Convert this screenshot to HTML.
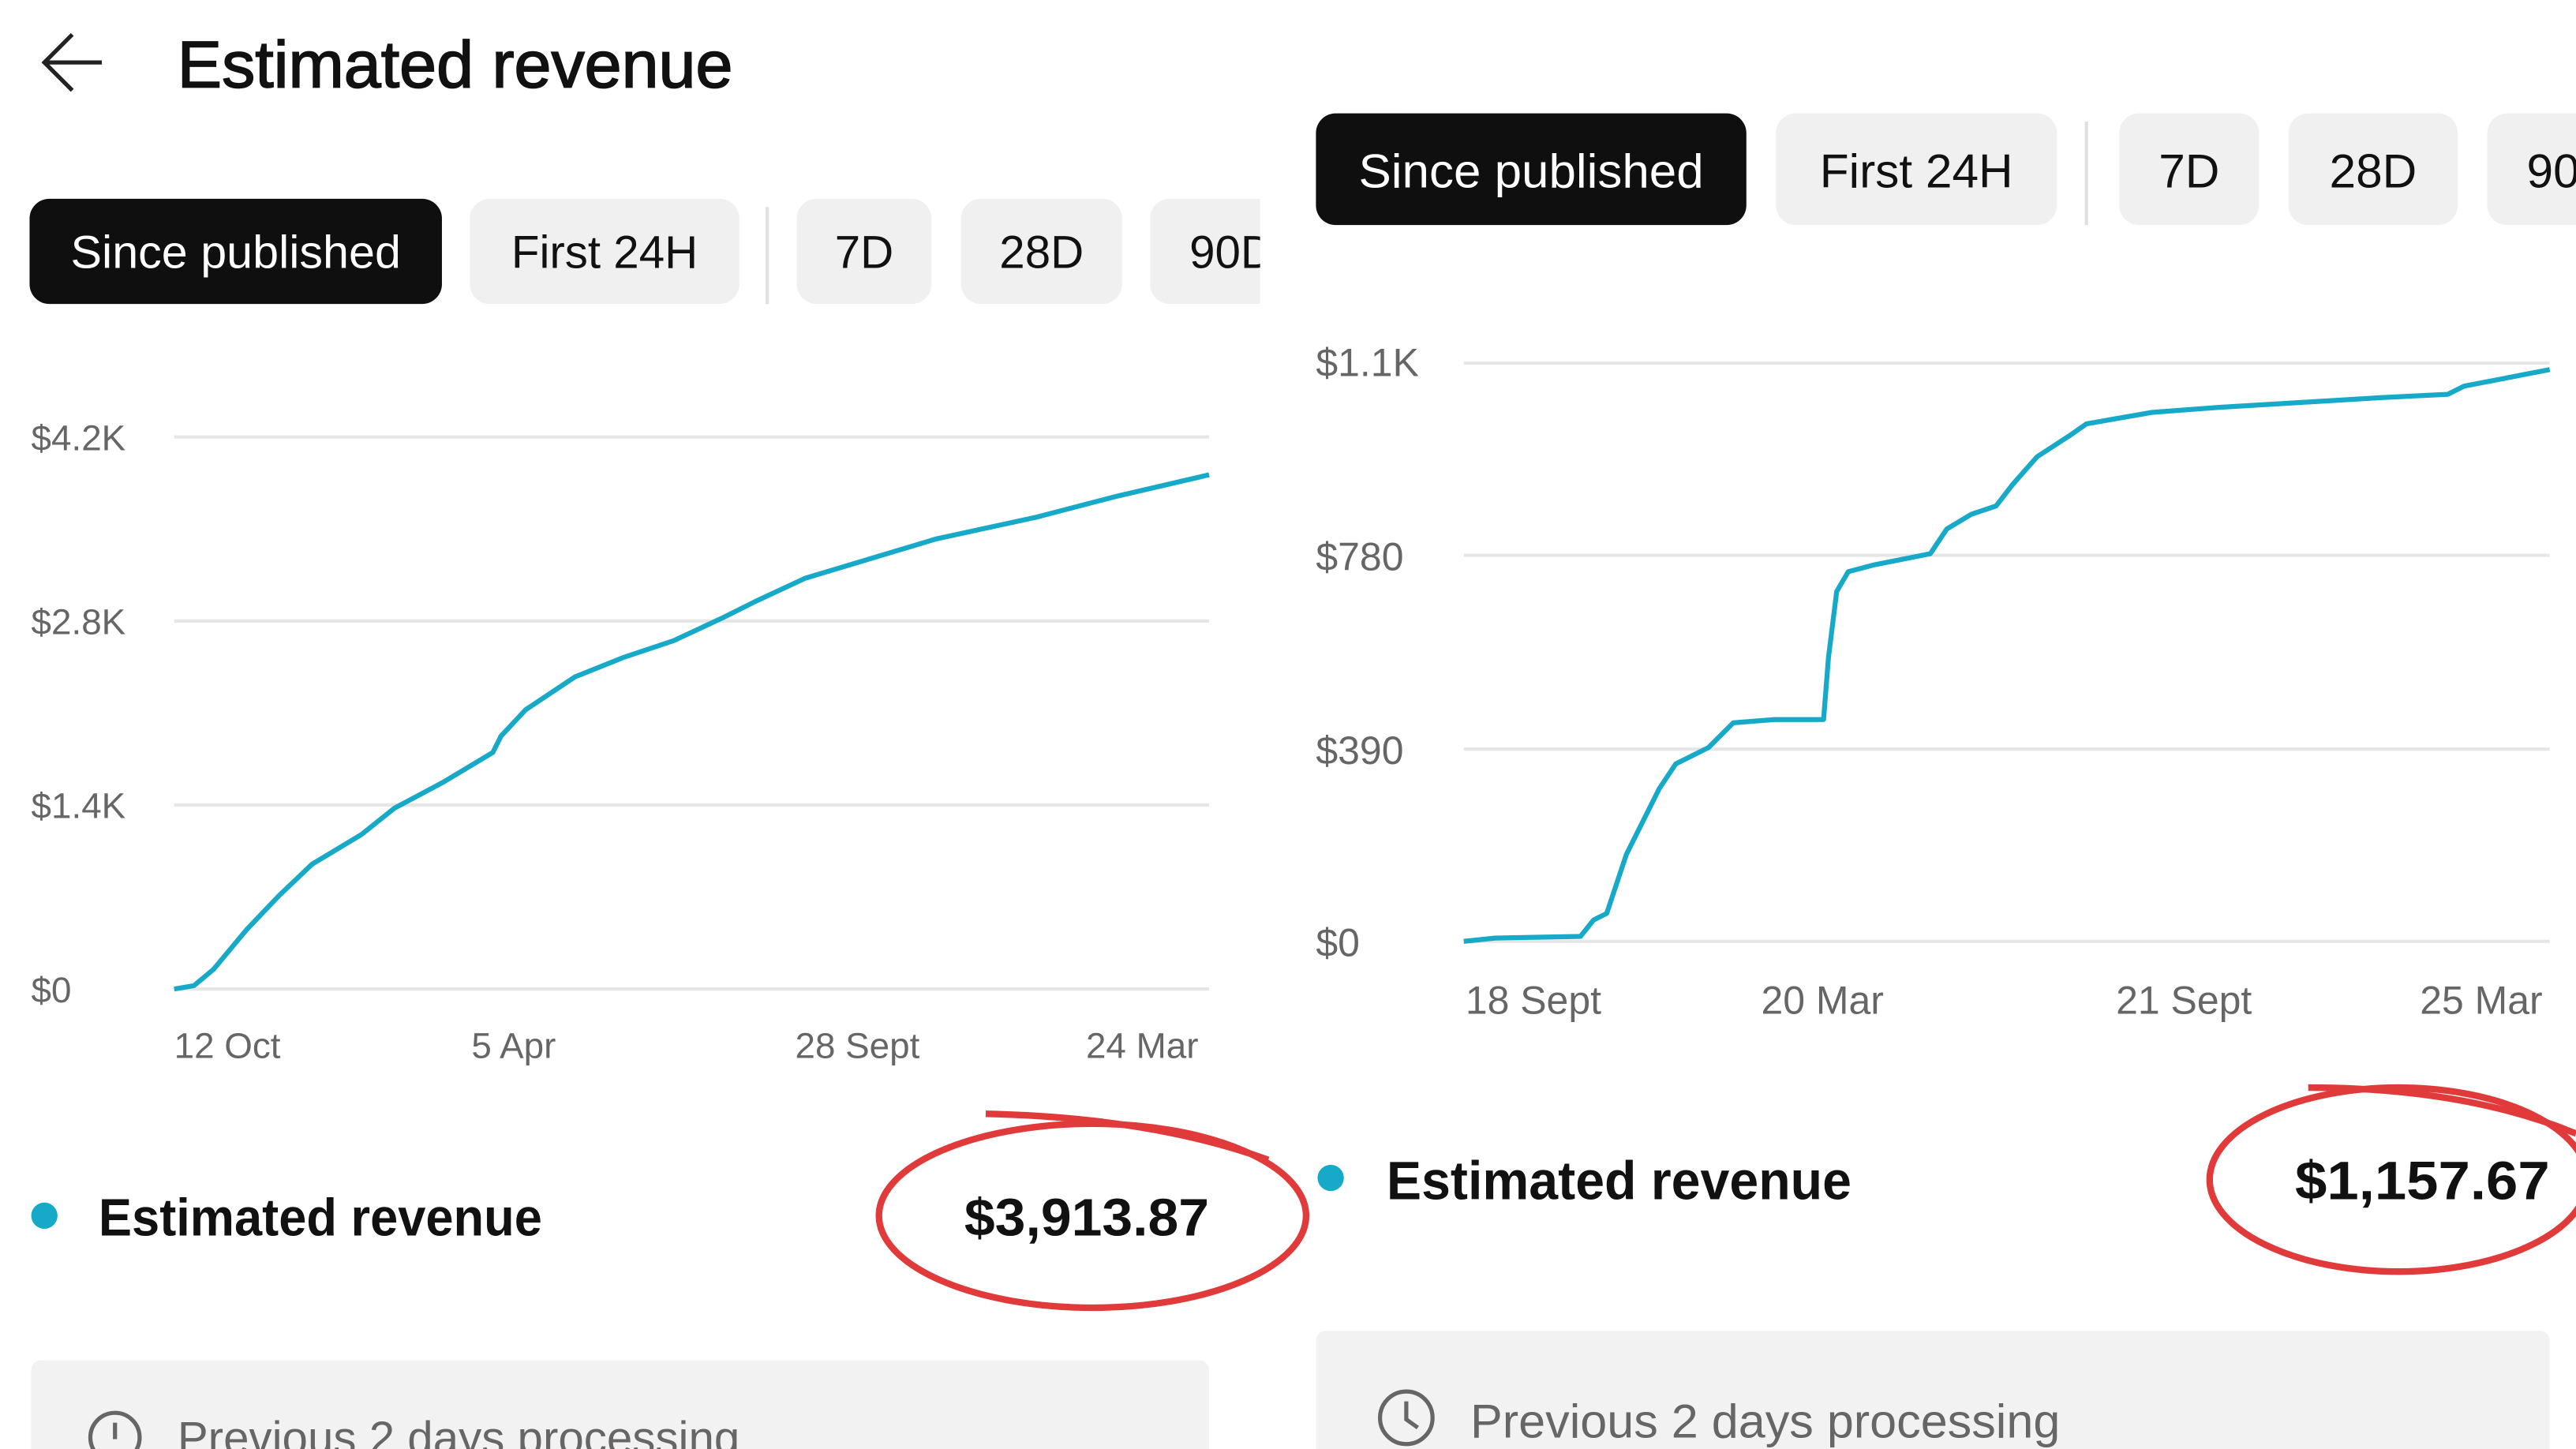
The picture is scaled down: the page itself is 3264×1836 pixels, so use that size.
<!DOCTYPE html>
<html><head><meta charset="utf-8"><style>
html,body{margin:0;padding:0;background:#fff;overflow:hidden}
svg{display:block}
text{font-family:"Liberation Sans",sans-serif}
</style></head><body>
<svg width="3264" height="1836" viewBox="0 0 1568 882" xmlns="http://www.w3.org/2000/svg">
<rect width="1568" height="882" fill="#fff"/>
<!-- Left panel -->
<g>
<path d="M62 38 H27 M44 21 L27 38 L44 55" stroke="#222" stroke-width="2.5" fill="none"/>
<text x="108" y="53" font-size="40" fill="#111" stroke="#111" stroke-width="0.8" textLength="338" lengthAdjust="spacingAndGlyphs">Estimated revenue</text>
<rect x="18" y="121" width="251" height="64" rx="12" fill="#0f0f0f"/>
<text x="143.5" y="163" font-size="28" fill="#fff" text-anchor="middle" textLength="201" lengthAdjust="spacingAndGlyphs">Since published</text>
<rect x="286" y="121" width="164" height="64" rx="12" fill="#f0f0f0"/>
<text x="368" y="163" font-size="28" fill="#111" text-anchor="middle">First 24H</text>
<line x1="467" y1="126" x2="467" y2="185" stroke="#e0e0e0" stroke-width="2"/>
<rect x="485" y="121" width="82" height="64" rx="12" fill="#f0f0f0"/>
<text x="526" y="163" font-size="28" fill="#111" text-anchor="middle">7D</text>
<rect x="585" y="121" width="98" height="64" rx="12" fill="#f0f0f0"/>
<text x="634" y="163" font-size="28" fill="#111" text-anchor="middle">28D</text>
<svg x="700" y="121" width="67" height="64"><rect x="0" y="0" width="100" height="64" rx="12" fill="#f0f0f0"/><text x="24" y="42" font-size="28" fill="#111">90D</text></svg>
<g stroke="#e6e6e6" stroke-width="2">
<line x1="106" y1="266" x2="736" y2="266"/><line x1="106" y1="378" x2="736" y2="378"/>
<line x1="106" y1="490" x2="736" y2="490"/><line x1="106" y1="602" x2="736" y2="602"/>
</g>
<g font-size="22" fill="#666">
<text x="19" y="274">$4.2K</text><text x="19" y="386">$2.8K</text><text x="19" y="498">$1.4K</text><text x="19" y="610">$0</text>
<text x="106" y="644">12 Oct</text><text x="287" y="644">5 Apr</text><text x="484" y="644">28 Sept</text><text x="661" y="644">24 Mar</text>
</g>
<polyline fill="none" stroke="#17a9c8" stroke-width="3" stroke-linejoin="round" points="106,602 118,600 130,590 150,566 170,545 190,526 220,508 240,492 270,476 300,458 305,448 320,432 350,412 380,400 410,390 440,376 460,366 490,352 530,340 570,328 630,315 680,302 736,289"/>
<circle cx="27" cy="740" r="8" fill="#17a9c8"/>
<text x="60" y="752" font-size="32" font-weight="bold" fill="#111" textLength="270" lengthAdjust="spacingAndGlyphs">Estimated revenue</text>
<text x="587" y="752" font-size="32" font-weight="bold" fill="#111" textLength="149" lengthAdjust="spacingAndGlyphs">$3,913.87</text>
<ellipse cx="665" cy="740" rx="130" ry="56" fill="none" stroke="#e03a3a" stroke-width="4"/>
<path d="M600 678 Q700 680 772 706" fill="none" stroke="#e03a3a" stroke-width="4"/>
<rect x="19" y="828" width="717" height="80" rx="6" fill="#f2f2f2"/>
<circle cx="70" cy="875" r="15" fill="none" stroke="#666" stroke-width="2.5"/>
<path d="M70 866 V876" fill="none" stroke="#666" stroke-width="2.5"/>
<text x="108" y="885" font-size="28" fill="#666">Previous 2 days processing</text>
</g>
<!-- Right panel -->
<g>
<rect x="801" y="69" width="262" height="68" rx="12" fill="#0f0f0f"/>
<text x="932" y="114" font-size="29" fill="#fff" text-anchor="middle" textLength="210" lengthAdjust="spacingAndGlyphs">Since published</text>
<rect x="1081" y="69" width="171" height="68" rx="12" fill="#f0f0f0"/>
<text x="1166.5" y="114" font-size="29" fill="#111" text-anchor="middle">First 24H</text>
<line x1="1270" y1="74" x2="1270" y2="137" stroke="#e0e0e0" stroke-width="2"/>
<rect x="1290" y="69" width="85" height="68" rx="12" fill="#f0f0f0"/>
<text x="1332.5" y="114" font-size="29" fill="#111" text-anchor="middle">7D</text>
<rect x="1393" y="69" width="103" height="68" rx="12" fill="#f0f0f0"/>
<text x="1444.5" y="114" font-size="29" fill="#111" text-anchor="middle">28D</text>
<rect x="1514" y="69" width="100" height="68" rx="12" fill="#f0f0f0"/>
<text x="1538" y="114" font-size="29" fill="#111">90D</text>
<g stroke="#e6e6e6" stroke-width="2">
<line x1="891" y1="221" x2="1552" y2="221"/><line x1="891" y1="338" x2="1552" y2="338"/>
<line x1="891" y1="456" x2="1552" y2="456"/><line x1="891" y1="573" x2="1552" y2="573"/>
</g>
<g font-size="24" fill="#666">
<text x="801" y="229">$1.1K</text><text x="801" y="347">$780</text><text x="801" y="465">$390</text><text x="801" y="582">$0</text>
<text x="892" y="617">18 Sept</text><text x="1072" y="617">20 Mar</text><text x="1288" y="617">21 Sept</text><text x="1473" y="617">25 Mar</text>
</g>
<polyline fill="none" stroke="#17a9c8" stroke-width="3" stroke-linejoin="round" points="891,573 910,571 962,570 970,560 978,556 985,535 990,520 1000,500 1010,480 1020,465 1030,460 1040,455 1055,440 1080,438 1110,438 1113,400 1118,360 1125,348 1140,344 1160,340 1175,337 1185,322 1200,313 1215,308 1225,295 1240,278 1260,265 1270,258 1310,251 1350,248 1400,245 1450,242 1490,240 1500,235 1552,225"/>
<circle cx="810" cy="717" r="8" fill="#17a9c8"/>
<text x="844" y="730" font-size="33" font-weight="bold" fill="#111" textLength="283" lengthAdjust="spacingAndGlyphs">Estimated revenue</text>
<text x="1397" y="730" font-size="33" font-weight="bold" fill="#111" textLength="155" lengthAdjust="spacingAndGlyphs">$1,157.67</text>
<ellipse cx="1460" cy="718" rx="115" ry="56" fill="none" stroke="#e03a3a" stroke-width="4"/>
<path d="M1405 662 Q1500 662 1568 690" fill="none" stroke="#e03a3a" stroke-width="4"/>
<rect x="801" y="810" width="751" height="90" rx="6" fill="#f2f2f2"/>
<circle cx="856" cy="863" r="16" fill="none" stroke="#666" stroke-width="2.5"/>
<path d="M856 853 V864 L863 869" fill="none" stroke="#666" stroke-width="2.5"/>
<text x="895" y="875" font-size="29" fill="#666" textLength="359" lengthAdjust="spacingAndGlyphs">Previous 2 days processing</text>
</g>
</svg>
</body></html>
